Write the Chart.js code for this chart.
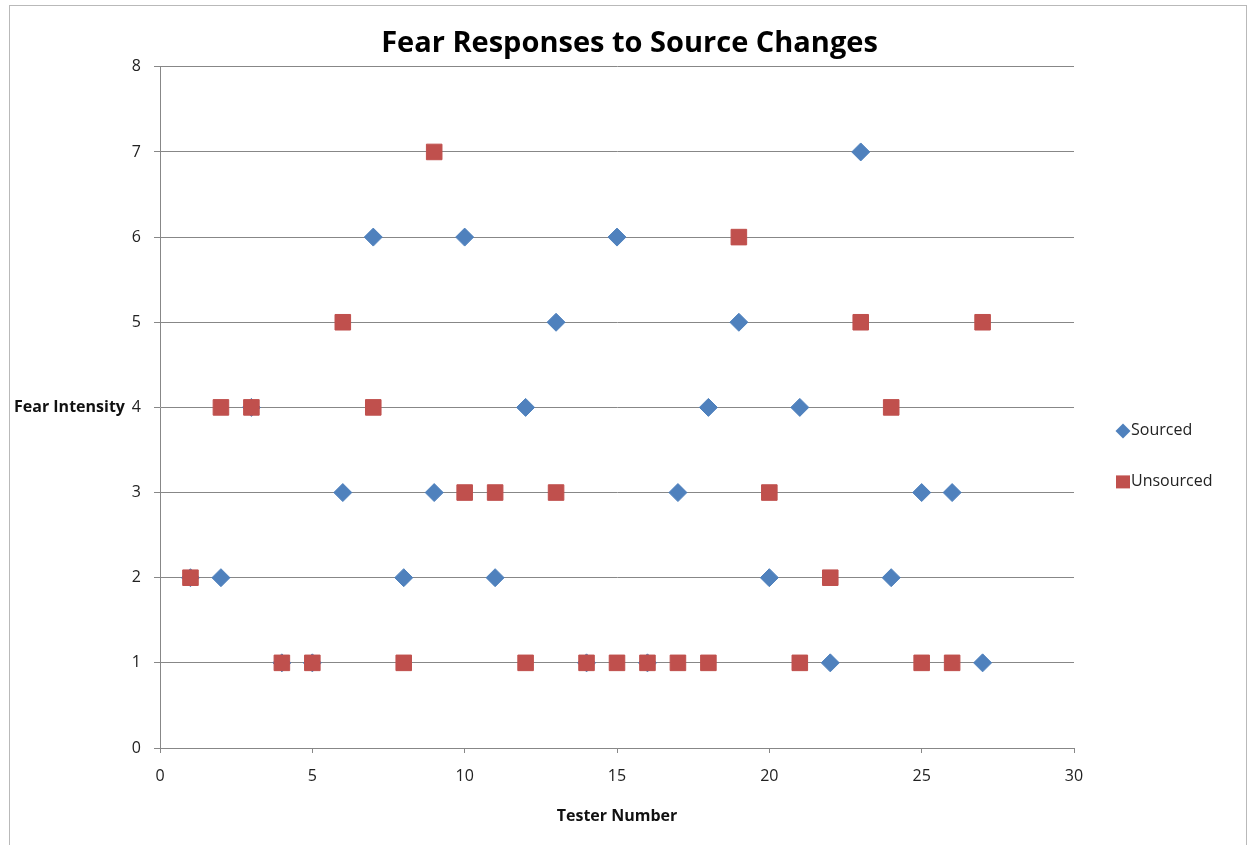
<!DOCTYPE html>
<html lang="en">
<head>
<meta charset="UTF-8" />
<title>Fear Responses to Source Changes</title>
<script src="https://cdn.jsdelivr.net/npm/chart.js"></script>
<style>
  html, body { margin: 0; padding: 0; background: #fff; overflow: hidden; }
  #frame { position: absolute; left: 9px; top: 5px; width: 1236px; height: 860px; border: 1px solid #b9b9b9; }
  #wrap { position: absolute; left: 0; top: 0; width: 1249px; height: 845px; }
</style>
</head>
<body>
<div id="frame"></div>
<div id="wrap"><canvas id="fearChart"></canvas></div>

<script>
// tester number on x, fear intensity on y
const testers   = [1, 2, 3, 4, 5, 6, 7, 8, 9, 10, 11, 12, 13, 14, 15, 16, 17, 18, 19, 20, 21, 22, 23, 24, 25, 26, 27];
const sourced   = [2, 2, 4, 1, 1, 3, 6, 2, 3, 6, 2, 4, 5, 1, 6, 1, 3, 4, 5, 2, 4, 1, 7, 2, 3, 3, 1];
const unsourced = [2, 4, 4, 1, 1, 5, 4, 1, 7, 3, 3, 1, 3, 1, 1, 1, 1, 1, 6, 3, 1, 2, 5, 4, 1, 1, 5];
const seriesNames = ["Sourced", "Unsourced"];

const BLUE = "#4F81BD";
const RED = "#C0504D";
const GRID = "#878787";
const FONT = "'Open Sans', Lato, sans-serif";

function toPoints(values) {
  return testers.map((t, i) => ({ x: t, y: values[i] }));
}

// y axis title is horizontal in the original, so draw it by hand
const yTitlePlugin = {
  id: "yTitle",
  afterDraw(chart) {
    const { ctx, chartArea } = chart;
    ctx.save();
    ctx.font = "bold 16px " + FONT;
    ctx.fillStyle = "#111";
    ctx.textAlign = "left";
    ctx.textBaseline = "middle";
    ctx.fillText("Fear Intensity", 14, (chartArea.top + chartArea.bottom) / 2);
    ctx.restore();
  }
};

// legend to the right, spaced like the Excel one
const sideLegend = {
  id: "sideLegend",
  afterDraw(chart) {
    const { ctx, chartArea } = chart;
    const cx = chartArea.right + 49;
    let cy = (chartArea.top + chartArea.bottom) / 2 + 23.5;
    ctx.save();
    ctx.font = "16px " + FONT;
    ctx.textBaseline = "middle";
    chart.data.datasets.forEach(ds => {
      ctx.fillStyle = ds.backgroundColor;
      ctx.beginPath();
      if (ds.pointStyle === "rectRot") {
        const r = 7.5;
        ctx.moveTo(cx - r, cy);
        ctx.lineTo(cx, cy - r);
        ctx.lineTo(cx + r, cy);
        ctx.lineTo(cx, cy + r);
        ctx.closePath();
      } else {
        ctx.rect(cx - 7, cy - 6.5, 14, 13);
      }
      ctx.fill();
      ctx.fillStyle = "#222";
      ctx.fillText(ds.label, cx + 8, cy);
      cy += 51;
    });
    ctx.restore();
  }
};

const ctx = document.getElementById("fearChart").getContext("2d");

new Chart(ctx, {
  type: "scatter",
  data: {
    datasets: [
      {
        label: seriesNames[0],
        data: toPoints(sourced),
        pointStyle: "rectRot",
        pointRadius: 9,
        pointHoverRadius: 9,
        backgroundColor: BLUE,
        borderColor: BLUE,
        borderWidth: 1,
        order: 2
      },
      {
        label: seriesNames[1],
        data: toPoints(unsourced),
        pointStyle: "rect",
        pointRadius: 11,
        pointHoverRadius: 11,
        backgroundColor: RED,
        borderColor: RED,
        borderWidth: 1,
        order: 1
      }
    ]
  },
  options: {
    responsive: true,
    maintainAspectRatio: false,
    animation: false,
    layout: { padding: { left: 10, right: 0, top: 0, bottom: 0 } },
    scales: {
      x: {
        min: 0,
        max: 30,
        afterFit(scale) { scale.height = 97; },
        ticks: { stepSize: 5, color: "#222", padding: 14, font: { family: FONT, size: 16 } },
        grid: { drawOnChartArea: false, drawTicks: true, tickLength: 5, color: GRID },
        border: { display: true, color: GRID, width: 1 },
        title: {
          display: true,
          text: "Tester Number",
          color: "#111",
          font: { family: FONT, size: 16, weight: "bold" },
          padding: { top: 0, bottom: 19 }
        }
      },
      y: {
        min: 0,
        max: 8,
        afterFit(scale) { scale.width = 150; },
        ticks: { stepSize: 1, color: "#222", padding: 13, font: { family: FONT, size: 16 } },
        grid: { drawTicks: true, tickLength: 6, color: GRID, lineWidth: 1 },
        border: { display: true, color: GRID, width: 1 }
      },
      // empty right-hand axis: keeps room for the legend without pushing the title off centre
      legendRoom: {
        type: "linear",
        position: "right",
        display: true,
        afterFit(scale) { scale.width = 175; },
        ticks: { display: false },
        grid: { display: false },
        border: { display: false }
      }
    },
    plugins: {
      legend: { display: false },
      tooltip: { enabled: false },
      title: {
        display: true,
        text: "Fear Responses to Source Changes",
        color: "#000",
        font: { family: FONT, size: 29, weight: "bold" },
        padding: { top: 26, bottom: 6 }
      }
    }
  },
  plugins: [yTitlePlugin, sideLegend]
});
</script>
</body>
</html>
